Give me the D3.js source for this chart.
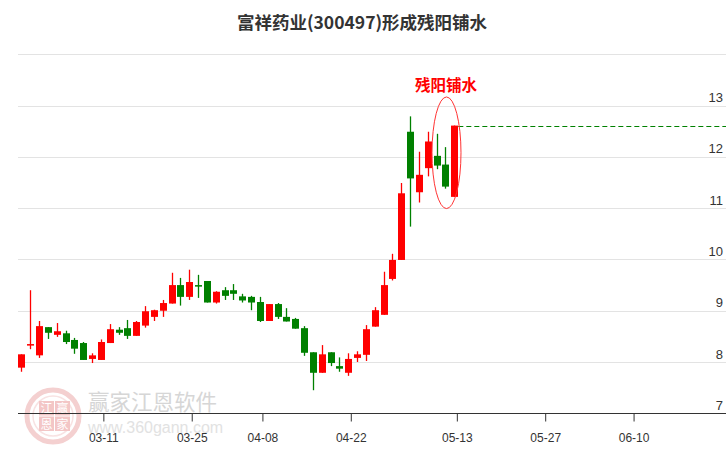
<!DOCTYPE html>
<html>
<head>
<meta charset="utf-8">
<script src="https://cdn.jsdelivr.net/npm/d3@7"></script>
<style>
  html, body { margin: 0; padding: 0; background: #fff; }
  svg { display: block; }
</style>
</head>
<body>
<svg id="chart" width="726" height="450"></svg>
<script>
// ---- data ----
const dates = ["02-27","02-28","02-29","03-01","03-04","03-05","03-06","03-07","03-08","03-11",
  "03-12","03-13","03-14","03-15","03-18","03-19","03-20","03-21","03-22","03-25",
  "03-26","03-27","03-28","03-29","04-01","04-02","04-03","04-08","04-09","04-10",
  "04-11","04-12","04-15","04-16","04-17","04-18","04-19","04-22","04-23","04-24",
  "04-25","04-26","04-29","04-30","05-06","05-07","05-08","05-09","05-10","05-13"];
const openV  = [7.89,8.32,8.13,8.68,8.53,8.56,8.43,8.37,8.06,8.04,
  8.37,8.63,8.66,8.51,8.71,8.88,9.00,9.14,9.50,9.27,
  9.50,9.58,9.16,9.40,9.40,9.28,9.27,9.17,8.80,9.13,
  8.88,8.84,8.66,8.19,7.79,8.19,7.92,7.79,8.08,8.14,
  8.69,8.92,9.62,9.99,12.49,11.31,11.78,12.02,11.85,11.22];
const closeV = [8.15,8.35,8.70,8.57,8.60,8.39,8.26,8.04,8.13,8.39,
  8.64,8.57,8.51,8.78,8.99,9.01,9.15,9.50,9.27,9.56,
  9.47,9.16,9.37,9.29,9.33,9.20,9.16,8.80,9.13,8.88,
  8.79,8.65,8.18,7.79,8.15,7.98,7.87,8.06,8.15,8.64,
  9.01,9.50,9.99,11.29,11.58,11.65,12.30,11.83,11.42,12.61];
const highV  = [8.15,9.40,8.80,8.68,8.76,8.61,8.47,8.39,8.17,8.44,
  8.74,8.68,8.82,8.80,9.09,9.02,9.21,9.74,9.64,9.80,
  9.70,9.58,9.38,9.46,9.52,9.33,9.29,9.27,9.13,9.15,
  9.05,8.86,8.70,8.19,8.33,8.19,8.09,8.17,8.21,8.72,
  9.07,9.76,10.11,11.49,12.79,12.10,12.49,12.45,12.19,12.61];
const lowV   = [7.81,8.25,8.08,8.45,8.49,8.35,8.16,8.04,7.98,8.04,
  8.37,8.53,8.45,8.51,8.67,8.80,8.88,9.14,9.10,9.21,
  9.25,9.16,9.14,9.21,9.21,9.16,9.01,8.78,8.80,8.84,
  8.79,8.65,8.12,7.45,7.79,7.92,7.81,7.73,8.00,8.02,
  8.69,8.92,9.59,9.99,10.64,11.11,11.62,11.76,11.38,11.22];
const futureDates = ["05-14","05-15","05-16","05-17","05-20","05-21","05-22","05-23","05-24","05-27",
  "05-28","05-29","05-30","05-31","06-03","06-04","06-05","06-06","06-07","06-10",
  "06-11","06-12","06-13","06-14","06-17","06-18","06-19","06-20","06-21","06-24","06-25"];
const xTickLabels = ["03-11","03-25","04-08","04-22","05-13","05-27","06-10"];
const yTickValues = [7,8,9,10,11,12,13];
const gridValues = [8,9,10,11,12,13,14];
const titleText = "富祥药业(300497)形成残阳铺水";
const patternName = "残阳铺水";
const patternDates = ["05-10","05-13"];

// ---- layout ----
const plotLeft = 18, plotRight = 726;
const svg = d3.select("#chart");
const allDates = dates.concat(futureDates);
const step = 8.837;
const x = d3.scaleBand().domain(allDates)
  .range([16.9, 16.9 + allDates.length * step])
  .paddingInner(0.2).paddingOuter(0.1);
const y = d3.scaleLinear().domain([7, 14]).range([413.3, 54.3]);
const cx = d => x(d) + x.bandwidth() / 2;
const UP = "#ff0000", DOWN = "#008000";

// watermark
const wm = svg.append("g").attr("class", "watermark");
wm.append("circle").attr("cx", 53).attr("cy", 416).attr("r", 26)
  .attr("fill", "none").attr("stroke", "#f4d0d0").attr("stroke-width", 5);
wm.append("circle").attr("cx", 53).attr("cy", 416).attr("r", 20)
  .attr("fill", "none").attr("stroke", "#f8e2e2").attr("stroke-width", 1.5);
const wmChars = [["江","赢"],["恩","家"]];
wmChars.forEach((row, r) => row.forEach((ch, c) => {
  wm.append("rect").attr("x", 39 + c * 16).attr("y", 401 + r * 15.5)
    .attr("width", 15).attr("height", 14.5).attr("fill", "#f3c6c6");
  wm.append("text").attr("x", 46.5 + c * 16).attr("y", 413 + r * 15.5)
    .attr("text-anchor", "middle").attr("font-size", 12)
    .attr("font-family", "Noto Sans CJK SC").attr("fill", "#fff").text(ch);
}));
wm.append("text").attr("x", 88).attr("y", 410)
  .attr("font-family", "Noto Sans CJK SC").attr("font-size", 21.5)
  .attr("fill", "#d6d6d6").text("赢家江恩软件");
wm.append("text").attr("x", 88).attr("y", 433)
  .attr("font-family", "Liberation Sans, Arial").attr("font-size", 16)
  .attr("fill", "#e2e2e2").text("www.360gann.com");

// title
svg.append("text").attr("x", 362).attr("y", 29)
  .attr("text-anchor", "middle")
  .attr("font-family", "Noto Sans CJK SC").attr("font-weight", "bold")
  .attr("font-size", 17.5).attr("fill", "#333").text(titleText);

// gridlines
svg.append("g").selectAll("line").data(gridValues).join("line")
  .attr("x1", plotLeft).attr("x2", plotRight)
  .attr("y1", d => Math.round(y(d)) + 0.5).attr("y2", d => Math.round(y(d)) + 0.5)
  .attr("stroke", "#e3e3e3").attr("stroke-width", 1);

// y labels
const yAxis = d3.axisRight(y).tickValues(yTickValues).tickSize(0).tickFormat(d3.format("d"));
const yg = svg.append("g").attr("transform", "translate(723,0)").call(yAxis);
yg.select(".domain").remove();
yg.selectAll("text").attr("x", 0).attr("dy", "-0.3em").attr("text-anchor", "end")
  .attr("font-family", "Liberation Sans, Arial").attr("font-size", 13).attr("fill", "#333");

// x axis
svg.append("line").attr("x1", plotLeft).attr("x2", plotRight)
  .attr("y1", Math.round(y(7)) + 0.5).attr("y2", Math.round(y(7)) + 0.5)
  .attr("stroke", "#333").attr("stroke-width", 1);
const xAxis = d3.axisBottom(x).tickValues(xTickLabels).tickSize(8).tickSizeOuter(0);
const xg = svg.append("g").attr("transform", `translate(3,${Math.round(y(7)) + 0.5})`).call(xAxis);
xg.select(".domain").remove();
xg.selectAll(".tick line").attr("stroke", "#333");
xg.selectAll("text").attr("dy", "1.45em")
  .attr("font-family", "Liberation Sans, Arial").attr("font-size", 12).attr("fill", "#333");

// candles
const candles = dates.map((d, i) => ({d, o: openV[i], c: closeV[i], h: highV[i], l: lowV[i]}));
const cg = svg.append("g");
cg.selectAll("line.wick").data(candles).join("line").attr("class", "wick")
  .attr("x1", d => Math.round(cx(d.d)) + 0.5).attr("x2", d => Math.round(cx(d.d)) + 0.5)
  .attr("y1", d => y(d.h)).attr("y2", d => y(d.l))
  .attr("stroke", d => d.c >= d.o ? UP : DOWN).attr("stroke-width", 1.3);
cg.selectAll("rect.body").data(candles).join("rect").attr("class", "body")
  .attr("x", d => Math.round(cx(d.d)) + 0.5 - 3.5)
  .attr("width", 7)
  .attr("y", d => y(Math.max(d.o, d.c)))
  .attr("height", d => Math.max(1.5, Math.abs(y(d.o) - y(d.c))))
  .attr("fill", d => d.c >= d.o ? UP : DOWN);

// last close dashed line
const last = candles[candles.length - 1];
svg.append("line")
  .attr("x1", cx(last.d) + 4).attr("x2", plotRight)
  .attr("y1", Math.round(y(last.c)) + 0.5).attr("y2", Math.round(y(last.c)) + 0.5)
  .attr("stroke", DOWN).attr("stroke-width", 1).attr("stroke-dasharray", "5,3");

// pattern ellipse + label
const p0 = cx(patternDates[0]);
svg.append("ellipse")
  .attr("cx", p0 + 1).attr("cy", y(12.08))
  .attr("rx", 14.5).attr("ry", 55.8)
  .attr("fill", "none").attr("stroke", "#ff3333").attr("stroke-width", 1);
svg.append("text").attr("x", p0 + 0.5).attr("y", 91)
  .attr("text-anchor", "middle")
  .attr("font-family", "Noto Sans CJK SC").attr("font-weight", "bold")
  .attr("font-size", 15.5).attr("fill", "#ff0000").text(patternName);
</script>
</body>
</html>
